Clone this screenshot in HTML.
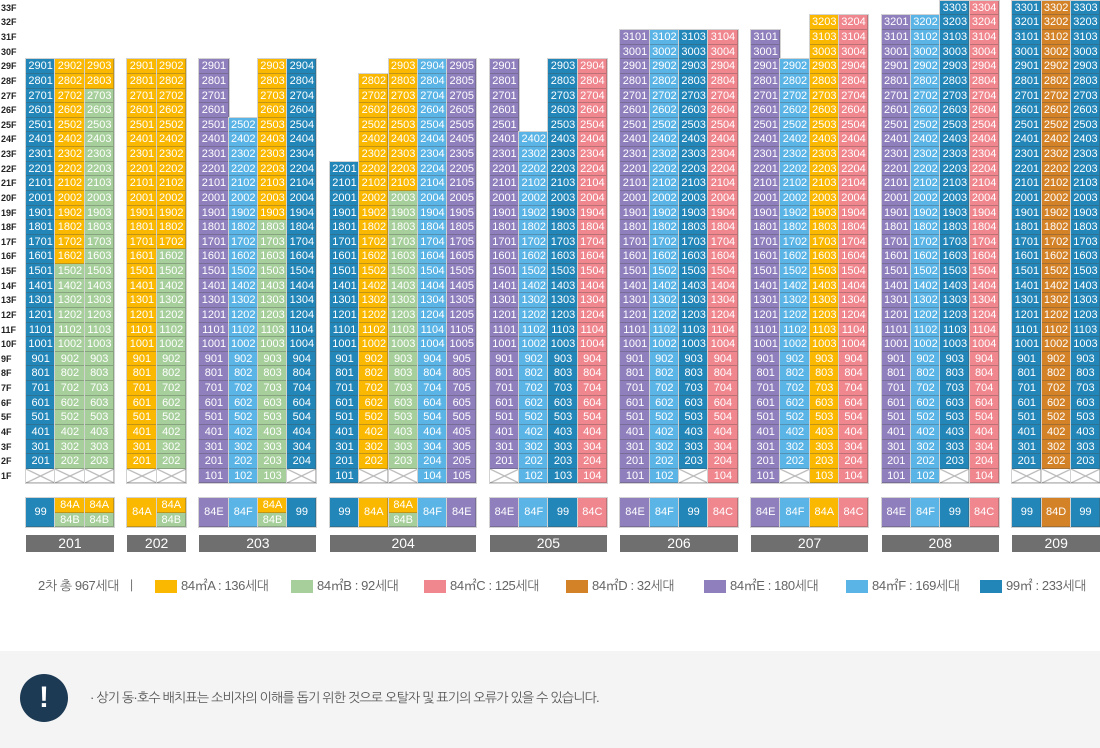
<!DOCTYPE html>
<html lang="ko">
<head>
<meta charset="utf-8">
<style>
*{box-sizing:border-box}
html,body{margin:0;padding:0}
body{width:1100px;height:748px;background:#fff;position:relative;overflow:hidden;font-family:"Liberation Sans","NanumGothic","Noto Sans CJK KR",sans-serif}
.fl{position:absolute;left:1px;top:0.8px;width:22px}
.fl b{display:block;height:14.63px;line-height:14.63px;font-size:9px;font-weight:bold;color:#222}
.c{position:absolute;width:29.3px;box-shadow:0 0 0 1px #d2d2d2}
.c i{display:block;height:14.63px;line-height:14.63px;font-style:normal;font-size:11px;color:#fff;text-align:center;box-shadow:inset -1px -1px 0 rgba(70,70,70,.32);white-space:nowrap;overflow:hidden}
.c i.h{height:29.3px;line-height:29.3px}
.b{background:#2286b9}
.y{background:#fbb800}
.g{background:#a6cf9b}
.k{background:#f0868e}
.o{background:#d38228}
.p{background:#8f7fbd}
.l{background:#5ab4e6}
.c i.x{background:linear-gradient(to top right,transparent 46%,#b9b9b9 49%,#b9b9b9 51%,transparent 54%),linear-gradient(to bottom right,transparent 46%,#b9b9b9 49%,#b9b9b9 51%,transparent 54%),#fff}
.n{position:absolute;top:535px;height:17.3px;line-height:17.3px;background:#6f6f6f;color:#fff;font-size:14px;text-align:center}
.q{position:absolute;top:580px;width:22px;height:12.5px}
.lt{position:absolute;top:577px;font-size:13px;line-height:18px;color:#666;letter-spacing:-0.4px;white-space:nowrap}
.nb{position:absolute;left:0;top:651px;width:1100px;height:97px;background:#f4f4f4}
.ic{position:absolute;left:20px;top:674px;width:48px;height:48px;border-radius:50%;background:#1d3a54;color:#fff;font-size:30px;font-weight:bold;text-align:center;line-height:48px}
.nt{position:absolute;left:90px;top:689px;font-size:13px;line-height:18px;color:#555;letter-spacing:-0.8px;white-space:nowrap}
</style>
</head>
<body>

<div class="fl"><b>33F</b><b>32F</b><b>31F</b><b>30F</b><b>29F</b><b>28F</b><b>27F</b><b>26F</b><b>25F</b><b>24F</b><b>23F</b><b>22F</b><b>21F</b><b>20F</b><b>19F</b><b>18F</b><b>17F</b><b>16F</b><b>15F</b><b>14F</b><b>13F</b><b>12F</b><b>11F</b><b>10F</b><b>9F</b><b>8F</b><b>7F</b><b>6F</b><b>5F</b><b>4F</b><b>3F</b><b>2F</b><b>1F</b></div>

<!-- 201 -->
<div class="c b" style="left:26px;top:59.32px"><i>2901</i><i>2801</i><i>2701</i><i>2601</i><i>2501</i><i>2401</i><i>2301</i><i>2201</i><i>2101</i><i>2001</i><i>1901</i><i>1801</i><i>1701</i><i>1601</i><i>1501</i><i>1401</i><i>1301</i><i>1201</i><i>1101</i><i>1001</i><i>901</i><i>801</i><i>701</i><i>601</i><i>501</i><i>401</i><i>301</i><i>201</i><i class="x"></i></div>
<div class="c y" style="left:55.3px;top:59.32px"><i>2902</i><i>2802</i><i>2702</i><i>2602</i><i>2502</i><i>2402</i><i>2302</i><i>2202</i><i>2102</i><i>2002</i><i>1902</i><i>1802</i><i>1702</i><i>1602</i><i class="g">1502</i><i class="g">1402</i><i class="g">1302</i><i class="g">1202</i><i class="g">1102</i><i class="g">1002</i><i class="g">902</i><i class="g">802</i><i class="g">702</i><i class="g">602</i><i class="g">502</i><i class="g">402</i><i class="g">302</i><i class="g">202</i><i class="x"></i></div>
<div class="c g" style="left:84.6px;top:59.32px"><i class="y">2903</i><i class="y">2803</i><i>2703</i><i>2603</i><i>2503</i><i>2403</i><i>2303</i><i>2203</i><i>2103</i><i>2003</i><i>1903</i><i>1803</i><i>1703</i><i>1603</i><i>1503</i><i>1403</i><i>1303</i><i>1203</i><i>1103</i><i>1003</i><i>903</i><i>803</i><i>703</i><i>603</i><i>503</i><i>403</i><i>303</i><i>203</i><i class="x"></i></div>

<!-- 202 -->
<div class="c y" style="left:127.3px;top:59.32px"><i>2901</i><i>2801</i><i>2701</i><i>2601</i><i>2501</i><i>2401</i><i>2301</i><i>2201</i><i>2101</i><i>2001</i><i>1901</i><i>1801</i><i>1701</i><i>1601</i><i>1501</i><i>1401</i><i>1301</i><i>1201</i><i>1101</i><i>1001</i><i>901</i><i>801</i><i>701</i><i>601</i><i>501</i><i>401</i><i>301</i><i>201</i><i class="x"></i></div>
<div class="c y" style="left:156.6px;top:59.32px"><i>2902</i><i>2802</i><i>2702</i><i>2602</i><i>2502</i><i>2402</i><i>2302</i><i>2202</i><i>2102</i><i>2002</i><i>1902</i><i>1802</i><i>1702</i><i class="g">1602</i><i class="g">1502</i><i class="g">1402</i><i class="g">1302</i><i class="g">1202</i><i class="g">1102</i><i class="g">1002</i><i class="g">902</i><i class="g">802</i><i class="g">702</i><i class="g">602</i><i class="g">502</i><i class="g">402</i><i class="g">302</i><i class="g">202</i><i class="x"></i></div>

<!-- 203 -->
<div class="c p" style="left:199.3px;top:59.32px"><i>2901</i><i>2801</i><i>2701</i><i>2601</i><i>2501</i><i>2401</i><i>2301</i><i>2201</i><i>2101</i><i>2001</i><i>1901</i><i>1801</i><i>1701</i><i>1601</i><i>1501</i><i>1401</i><i>1301</i><i>1201</i><i>1101</i><i>1001</i><i>901</i><i>801</i><i>701</i><i>601</i><i>501</i><i>401</i><i>301</i><i>201</i><i>101</i></div>
<div class="c l" style="left:228.6px;top:117.84px"><i>2502</i><i>2402</i><i>2302</i><i>2202</i><i>2102</i><i>2002</i><i>1902</i><i>1802</i><i>1702</i><i>1602</i><i>1502</i><i>1402</i><i>1302</i><i>1202</i><i>1102</i><i>1002</i><i>902</i><i>802</i><i>702</i><i>602</i><i>502</i><i>402</i><i>302</i><i>202</i><i>102</i></div>
<div class="c g" style="left:257.9px;top:59.32px"><i class="y">2903</i><i class="y">2803</i><i class="y">2703</i><i class="y">2603</i><i class="y">2503</i><i class="y">2403</i><i class="y">2303</i><i class="y">2203</i><i class="y">2103</i><i class="y">2003</i><i class="y">1903</i><i>1803</i><i>1703</i><i>1603</i><i>1503</i><i>1403</i><i>1303</i><i>1203</i><i>1103</i><i>1003</i><i>903</i><i>803</i><i>703</i><i>603</i><i>503</i><i>403</i><i>303</i><i>203</i><i>103</i></div>
<div class="c b" style="left:287.2px;top:59.32px"><i>2904</i><i>2804</i><i>2704</i><i>2604</i><i>2504</i><i>2404</i><i>2304</i><i>2204</i><i>2104</i><i>2004</i><i>1904</i><i>1804</i><i>1704</i><i>1604</i><i>1504</i><i>1404</i><i>1304</i><i>1204</i><i>1104</i><i>1004</i><i>904</i><i>804</i><i>704</i><i>604</i><i>504</i><i>404</i><i>304</i><i>204</i><i class="x"></i></div>

<!-- 204 -->
<div class="c b" style="left:329.9px;top:161.73px"><i>2201</i><i>2101</i><i>2001</i><i>1901</i><i>1801</i><i>1701</i><i>1601</i><i>1501</i><i>1401</i><i>1301</i><i>1201</i><i>1101</i><i>1001</i><i>901</i><i>801</i><i>701</i><i>601</i><i>501</i><i>401</i><i>301</i><i>201</i><i>101</i></div>
<div class="c y" style="left:359.2px;top:73.95px"><i>2802</i><i>2702</i><i>2602</i><i>2502</i><i>2402</i><i>2302</i><i>2202</i><i>2102</i><i>2002</i><i>1902</i><i>1802</i><i>1702</i><i>1602</i><i>1502</i><i>1402</i><i>1302</i><i>1202</i><i>1102</i><i>1002</i><i>902</i><i>802</i><i>702</i><i>602</i><i>502</i><i>402</i><i>302</i><i>202</i><i class="x"></i></div>
<div class="c g" style="left:388.5px;top:59.32px"><i class="y">2903</i><i class="y">2803</i><i class="y">2703</i><i class="y">2603</i><i class="y">2503</i><i class="y">2403</i><i class="y">2303</i><i class="y">2203</i><i class="y">2103</i><i>2003</i><i>1903</i><i>1803</i><i>1703</i><i>1603</i><i>1503</i><i>1403</i><i>1303</i><i>1203</i><i>1103</i><i>1003</i><i>903</i><i>803</i><i>703</i><i>603</i><i>503</i><i>403</i><i>303</i><i>203</i><i class="x"></i></div>
<div class="c l" style="left:417.8px;top:59.32px"><i>2904</i><i>2804</i><i>2704</i><i>2604</i><i>2504</i><i>2404</i><i>2304</i><i>2204</i><i>2104</i><i>2004</i><i>1904</i><i>1804</i><i>1704</i><i>1604</i><i>1504</i><i>1404</i><i>1304</i><i>1204</i><i>1104</i><i>1004</i><i>904</i><i>804</i><i>704</i><i>604</i><i>504</i><i>404</i><i>304</i><i>204</i><i>104</i></div>
<div class="c p" style="left:447.1px;top:59.32px"><i>2905</i><i>2805</i><i>2705</i><i>2605</i><i>2505</i><i>2405</i><i>2305</i><i>2205</i><i>2105</i><i>2005</i><i>1905</i><i>1805</i><i>1705</i><i>1605</i><i>1505</i><i>1405</i><i>1305</i><i>1205</i><i>1105</i><i>1005</i><i>905</i><i>805</i><i>705</i><i>605</i><i>505</i><i>405</i><i>305</i><i>205</i><i>105</i></div>

<!-- 205 -->
<div class="c p" style="left:489.8px;top:59.32px"><i>2901</i><i>2801</i><i>2701</i><i>2601</i><i>2501</i><i>2401</i><i>2301</i><i>2201</i><i>2101</i><i>2001</i><i>1901</i><i>1801</i><i>1701</i><i>1601</i><i>1501</i><i>1401</i><i>1301</i><i>1201</i><i>1101</i><i>1001</i><i>901</i><i>801</i><i>701</i><i>601</i><i>501</i><i>401</i><i>301</i><i>201</i><i class="x"></i></div>
<div class="c l" style="left:519.1px;top:132.47px"><i>2402</i><i>2302</i><i>2202</i><i>2102</i><i>2002</i><i>1902</i><i>1802</i><i>1702</i><i>1602</i><i>1502</i><i>1402</i><i>1302</i><i>1202</i><i>1102</i><i>1002</i><i>902</i><i>802</i><i>702</i><i>602</i><i>502</i><i>402</i><i>302</i><i>202</i><i>102</i></div>
<div class="c b" style="left:548.4px;top:59.32px"><i>2903</i><i>2803</i><i>2703</i><i>2603</i><i>2503</i><i>2403</i><i>2303</i><i>2203</i><i>2103</i><i>2003</i><i>1903</i><i>1803</i><i>1703</i><i>1603</i><i>1503</i><i>1403</i><i>1303</i><i>1203</i><i>1103</i><i>1003</i><i>903</i><i>803</i><i>703</i><i>603</i><i>503</i><i>403</i><i>303</i><i>203</i><i>103</i></div>
<div class="c k" style="left:577.7px;top:59.32px"><i>2904</i><i>2804</i><i>2704</i><i>2604</i><i>2504</i><i>2404</i><i>2304</i><i>2204</i><i>2104</i><i>2004</i><i>1904</i><i>1804</i><i>1704</i><i>1604</i><i>1504</i><i>1404</i><i>1304</i><i>1204</i><i>1104</i><i>1004</i><i>904</i><i>804</i><i>704</i><i>604</i><i>504</i><i>404</i><i>304</i><i>204</i><i>104</i></div>

<!-- 206 -->
<div class="c p" style="left:620.4px;top:30.06px"><i>3101</i><i>3001</i><i>2901</i><i>2801</i><i>2701</i><i>2601</i><i>2501</i><i>2401</i><i>2301</i><i>2201</i><i>2101</i><i>2001</i><i>1901</i><i>1801</i><i>1701</i><i>1601</i><i>1501</i><i>1401</i><i>1301</i><i>1201</i><i>1101</i><i>1001</i><i>901</i><i>801</i><i>701</i><i>601</i><i>501</i><i>401</i><i>301</i><i>201</i><i>101</i></div>
<div class="c l" style="left:649.7px;top:30.06px"><i>3102</i><i>3002</i><i>2902</i><i>2802</i><i>2702</i><i>2602</i><i>2502</i><i>2402</i><i>2302</i><i>2202</i><i>2102</i><i>2002</i><i>1902</i><i>1802</i><i>1702</i><i>1602</i><i>1502</i><i>1402</i><i>1302</i><i>1202</i><i>1102</i><i>1002</i><i>902</i><i>802</i><i>702</i><i>602</i><i>502</i><i>402</i><i>302</i><i>202</i><i>102</i></div>
<div class="c b" style="left:679px;top:30.06px"><i>3103</i><i>3003</i><i>2903</i><i>2803</i><i>2703</i><i>2603</i><i>2503</i><i>2403</i><i>2303</i><i>2203</i><i>2103</i><i>2003</i><i>1903</i><i>1803</i><i>1703</i><i>1603</i><i>1503</i><i>1403</i><i>1303</i><i>1203</i><i>1103</i><i>1003</i><i>903</i><i>803</i><i>703</i><i>603</i><i>503</i><i>403</i><i>303</i><i>203</i><i class="x"></i></div>
<div class="c k" style="left:708.3px;top:30.06px"><i>3104</i><i>3004</i><i>2904</i><i>2804</i><i>2704</i><i>2604</i><i>2504</i><i>2404</i><i>2304</i><i>2204</i><i>2104</i><i>2004</i><i>1904</i><i>1804</i><i>1704</i><i>1604</i><i>1504</i><i>1404</i><i>1304</i><i>1204</i><i>1104</i><i>1004</i><i>904</i><i>804</i><i>704</i><i>604</i><i>504</i><i>404</i><i>304</i><i>204</i><i>104</i></div>

<!-- 207 -->
<div class="c p" style="left:751px;top:30.06px"><i>3101</i><i>3001</i><i>2901</i><i>2801</i><i>2701</i><i>2601</i><i>2501</i><i>2401</i><i>2301</i><i>2201</i><i>2101</i><i>2001</i><i>1901</i><i>1801</i><i>1701</i><i>1601</i><i>1501</i><i>1401</i><i>1301</i><i>1201</i><i>1101</i><i>1001</i><i>901</i><i>801</i><i>701</i><i>601</i><i>501</i><i>401</i><i>301</i><i>201</i><i>101</i></div>
<div class="c l" style="left:780.3px;top:59.32px"><i>2902</i><i>2802</i><i>2702</i><i>2602</i><i>2502</i><i>2402</i><i>2302</i><i>2202</i><i>2102</i><i>2002</i><i>1902</i><i>1802</i><i>1702</i><i>1602</i><i>1502</i><i>1402</i><i>1302</i><i>1202</i><i>1102</i><i>1002</i><i>902</i><i>802</i><i>702</i><i>602</i><i>502</i><i>402</i><i>302</i><i>202</i><i class="x"></i></div>
<div class="c y" style="left:809.6px;top:15.43px"><i>3203</i><i>3103</i><i>3003</i><i>2903</i><i>2803</i><i>2703</i><i>2603</i><i>2503</i><i>2403</i><i>2303</i><i>2203</i><i>2103</i><i>2003</i><i>1903</i><i>1803</i><i>1703</i><i>1603</i><i>1503</i><i>1403</i><i>1303</i><i>1203</i><i>1103</i><i>1003</i><i>903</i><i>803</i><i>703</i><i>603</i><i>503</i><i>403</i><i>303</i><i>203</i><i>103</i></div>
<div class="c k" style="left:838.9px;top:15.43px"><i>3204</i><i>3104</i><i>3004</i><i>2904</i><i>2804</i><i>2704</i><i>2604</i><i>2504</i><i>2404</i><i>2304</i><i>2204</i><i>2104</i><i>2004</i><i>1904</i><i>1804</i><i>1704</i><i>1604</i><i>1504</i><i>1404</i><i>1304</i><i>1204</i><i>1104</i><i>1004</i><i>904</i><i>804</i><i>704</i><i>604</i><i>504</i><i>404</i><i>304</i><i>204</i><i>104</i></div>

<!-- 208 -->
<div class="c p" style="left:881.6px;top:15.43px"><i>3201</i><i>3101</i><i>3001</i><i>2901</i><i>2801</i><i>2701</i><i>2601</i><i>2501</i><i>2401</i><i>2301</i><i>2201</i><i>2101</i><i>2001</i><i>1901</i><i>1801</i><i>1701</i><i>1601</i><i>1501</i><i>1401</i><i>1301</i><i>1201</i><i>1101</i><i>1001</i><i>901</i><i>801</i><i>701</i><i>601</i><i>501</i><i>401</i><i>301</i><i>201</i><i>101</i></div>
<div class="c l" style="left:910.9px;top:15.43px"><i>3202</i><i>3102</i><i>3002</i><i>2902</i><i>2802</i><i>2702</i><i>2602</i><i>2502</i><i>2402</i><i>2302</i><i>2202</i><i>2102</i><i>2002</i><i>1902</i><i>1802</i><i>1702</i><i>1602</i><i>1502</i><i>1402</i><i>1302</i><i>1202</i><i>1102</i><i>1002</i><i>902</i><i>802</i><i>702</i><i>602</i><i>502</i><i>402</i><i>302</i><i>202</i><i>102</i></div>
<div class="c b" style="left:940.2px;top:0.8px"><i>3303</i><i>3203</i><i>3103</i><i>3003</i><i>2903</i><i>2803</i><i>2703</i><i>2603</i><i>2503</i><i>2403</i><i>2303</i><i>2203</i><i>2103</i><i>2003</i><i>1903</i><i>1803</i><i>1703</i><i>1603</i><i>1503</i><i>1403</i><i>1303</i><i>1203</i><i>1103</i><i>1003</i><i>903</i><i>803</i><i>703</i><i>603</i><i>503</i><i>403</i><i>303</i><i>203</i><i class="x"></i></div>
<div class="c k" style="left:969.5px;top:0.8px"><i>3304</i><i>3204</i><i>3104</i><i>3004</i><i>2904</i><i>2804</i><i>2704</i><i>2604</i><i>2504</i><i>2404</i><i>2304</i><i>2204</i><i>2104</i><i>2004</i><i>1904</i><i>1804</i><i>1704</i><i>1604</i><i>1504</i><i>1404</i><i>1304</i><i>1204</i><i>1104</i><i>1004</i><i>904</i><i>804</i><i>704</i><i>604</i><i>504</i><i>404</i><i>304</i><i>204</i><i>104</i></div>

<!-- 209 -->
<div class="c b" style="left:1012.2px;top:0.8px"><i>3301</i><i>3201</i><i>3101</i><i>3001</i><i>2901</i><i>2801</i><i>2701</i><i>2601</i><i>2501</i><i>2401</i><i>2301</i><i>2201</i><i>2101</i><i>2001</i><i>1901</i><i>1801</i><i>1701</i><i>1601</i><i>1501</i><i>1401</i><i>1301</i><i>1201</i><i>1101</i><i>1001</i><i>901</i><i>801</i><i>701</i><i>601</i><i>501</i><i>401</i><i>301</i><i>201</i><i class="x"></i></div>
<div class="c o" style="left:1041.5px;top:0.8px"><i>3302</i><i>3202</i><i>3102</i><i>3002</i><i>2902</i><i>2802</i><i>2702</i><i>2602</i><i>2502</i><i>2402</i><i>2302</i><i>2202</i><i>2102</i><i>2002</i><i>1902</i><i>1802</i><i>1702</i><i>1602</i><i>1502</i><i>1402</i><i>1302</i><i>1202</i><i>1102</i><i>1002</i><i>902</i><i>802</i><i>702</i><i>602</i><i>502</i><i>402</i><i>302</i><i>202</i><i class="x"></i></div>
<div class="c b" style="left:1070.8px;top:0.8px"><i>3303</i><i>3203</i><i>3103</i><i>3003</i><i>2903</i><i>2803</i><i>2703</i><i>2603</i><i>2503</i><i>2403</i><i>2303</i><i>2203</i><i>2103</i><i>2003</i><i>1903</i><i>1803</i><i>1703</i><i>1603</i><i>1503</i><i>1403</i><i>1303</i><i>1203</i><i>1103</i><i>1003</i><i>903</i><i>803</i><i>703</i><i>603</i><i>503</i><i>403</i><i>303</i><i>203</i><i class="x"></i></div>

<!-- type boxes -->
<div class="c" style="left:26px;top:498px"><i class="b h">99</i></div>
<div class="c" style="left:55.3px;top:498px"><i class="y">84A</i><i class="g">84B</i></div>
<div class="c" style="left:84.6px;top:498px"><i class="y">84A</i><i class="g">84B</i></div>

<div class="c" style="left:127.3px;top:498px"><i class="y h">84A</i></div>
<div class="c" style="left:156.6px;top:498px"><i class="y">84A</i><i class="g">84B</i></div>

<div class="c" style="left:199.3px;top:498px"><i class="p h">84E</i></div>
<div class="c" style="left:228.6px;top:498px"><i class="l h">84F</i></div>
<div class="c" style="left:257.9px;top:498px"><i class="y">84A</i><i class="g">84B</i></div>
<div class="c" style="left:287.2px;top:498px"><i class="b h">99</i></div>

<div class="c" style="left:329.9px;top:498px"><i class="b h">99</i></div>
<div class="c" style="left:359.2px;top:498px"><i class="y h">84A</i></div>
<div class="c" style="left:388.5px;top:498px"><i class="y">84A</i><i class="g">84B</i></div>
<div class="c" style="left:417.8px;top:498px"><i class="l h">84F</i></div>
<div class="c" style="left:447.1px;top:498px"><i class="p h">84E</i></div>

<div class="c" style="left:489.8px;top:498px"><i class="p h">84E</i></div>
<div class="c" style="left:519.1px;top:498px"><i class="l h">84F</i></div>
<div class="c" style="left:548.4px;top:498px"><i class="b h">99</i></div>
<div class="c" style="left:577.7px;top:498px"><i class="k h">84C</i></div>

<div class="c" style="left:620.4px;top:498px"><i class="p h">84E</i></div>
<div class="c" style="left:649.7px;top:498px"><i class="l h">84F</i></div>
<div class="c" style="left:679px;top:498px"><i class="b h">99</i></div>
<div class="c" style="left:708.3px;top:498px"><i class="k h">84C</i></div>

<div class="c" style="left:751px;top:498px"><i class="p h">84E</i></div>
<div class="c" style="left:780.3px;top:498px"><i class="l h">84F</i></div>
<div class="c" style="left:809.6px;top:498px"><i class="y h">84A</i></div>
<div class="c" style="left:838.9px;top:498px"><i class="k h">84C</i></div>

<div class="c" style="left:881.6px;top:498px"><i class="p h">84E</i></div>
<div class="c" style="left:910.9px;top:498px"><i class="l h">84F</i></div>
<div class="c" style="left:940.2px;top:498px"><i class="b h">99</i></div>
<div class="c" style="left:969.5px;top:498px"><i class="k h">84C</i></div>

<div class="c" style="left:1012.2px;top:498px"><i class="b h">99</i></div>
<div class="c" style="left:1041.5px;top:498px"><i class="o h">84D</i></div>
<div class="c" style="left:1070.8px;top:498px"><i class="b h">99</i></div>

<!-- name bars -->
<div class="n" style="left:26px;width:87.9px">201</div>
<div class="n" style="left:127.3px;width:58.6px">202</div>
<div class="n" style="left:199.3px;width:117.2px">203</div>
<div class="n" style="left:329.9px;width:146.5px">204</div>
<div class="n" style="left:489.8px;width:117.2px">205</div>
<div class="n" style="left:620.4px;width:117.2px">206</div>
<div class="n" style="left:751px;width:117.2px">207</div>
<div class="n" style="left:881.6px;width:117.2px">208</div>
<div class="n" style="left:1012.2px;width:88px">209</div>

<!-- legend -->
<div class="lt" style="left:38px">2차 총 967세대 &nbsp;ㅣ</div>
<div class="q y" style="left:155px"></div><div class="lt" style="left:181px">84㎡A : 136세대</div>
<div class="q g" style="left:291px"></div><div class="lt" style="left:317px">84㎡B : 92세대</div>
<div class="q k" style="left:424px"></div><div class="lt" style="left:450px">84㎡C : 125세대</div>
<div class="q o" style="left:566px"></div><div class="lt" style="left:592px">84㎡D : 32세대</div>
<div class="q p" style="left:704px"></div><div class="lt" style="left:730px">84㎡E : 180세대</div>
<div class="q l" style="left:846px"></div><div class="lt" style="left:872px">84㎡F : 169세대</div>
<div class="q b" style="left:980px"></div><div class="lt" style="left:1006px">99㎡ : 233세대</div>

<!-- notice -->
<div class="nb"></div>
<div class="ic">!</div>
<div class="nt">· 상기 동·호수 배치표는 소비자의 이해를 돕기 위한 것으로 오탈자 및 표기의 오류가 있을 수 있습니다.</div>

</body>
</html>
